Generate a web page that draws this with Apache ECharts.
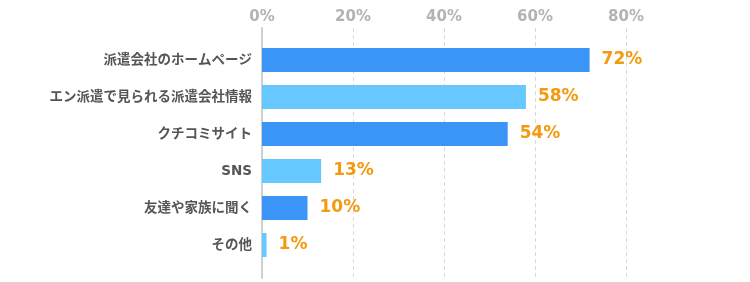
<!DOCTYPE html>
<html><head><meta charset="utf-8">
<script src="https://cdn.jsdelivr.net/npm/echarts@6/dist/echarts.min.js"></script>
<style>html,body{margin:0;padding:0;background:#fff}#c{width:750px;height:282px}</style>
</head><body><div id="c"></div>
<script>
const categories = ['派遣会社のホームページ','エン派遣で見られる派遣会社情報','クチコミサイト','SNS','友達や家族に聞く','その他'];
const values = [72, 58, 54, 13, 10, 1];
const xTicks = [0, 20, 40, 60, 80, 100];

const barColors = ['#3a95f6', '#66c8ff'];
const chart = echarts.init(document.getElementById('c'));
chart.setOption({
  animation: false,
  grid: [
    {left: 262, right: 33, top: 28, height: 250},
    {left: 262, right: 33, top: 41.5, height: 222}
  ],
  xAxis: [
    {gridIndex: 0, type: 'value', position: 'top', min: xTicks[0], max: xTicks[xTicks.length-1], interval: 20,
     axisLine: {show: false}, axisTick: {show: false},
     axisLabel: {margin: 3, color: '#b3b3b3', fontSize: 15, fontWeight: 'bold', fontFamily: 'DejaVu Sans',
       showMaxLabel: false, formatter: v => v + '%'},
     splitLine: {show: true, showMinLine: false, showMaxLine: false, lineStyle: {type: [4, 3], color: '#d9d9d9', width: 1}}},
    {gridIndex: 1, type: 'value', position: 'top', min: xTicks[0], max: xTicks[xTicks.length-1], interval: 20, show: false,
     splitLine: {show: false}}
  ],
  yAxis: [
    {gridIndex: 0, type: 'category', inverse: true, data: categories,
     axisLine: {show: true, lineStyle: {color: '#cfcfcf', width: 2}}, axisTick: {show: false}, axisLabel: {show: false}},
    {gridIndex: 1, type: 'category', inverse: true, data: categories,
     axisLine: {show: false}, axisTick: {show: false},
     axisLabel: {margin: 10, color: '#555', fontSize: 13.5, fontWeight: 'bold', fontFamily: 'DejaVu Sans, "Noto Sans CJK JP"'}}
  ],
  series: [{
    type: 'bar', xAxisIndex: 1, yAxisIndex: 1, data: values, barWidth: 24,
    itemStyle: {color: p => barColors[p.dataIndex % 2]},
    label: {show: true, position: 'right', distance: 12, color: '#f39a0f', fontSize: 17, fontWeight: 'bold',
      fontFamily: 'DejaVu Sans', formatter: p => p.value + '%'}
  }]
});
</script></body></html>
